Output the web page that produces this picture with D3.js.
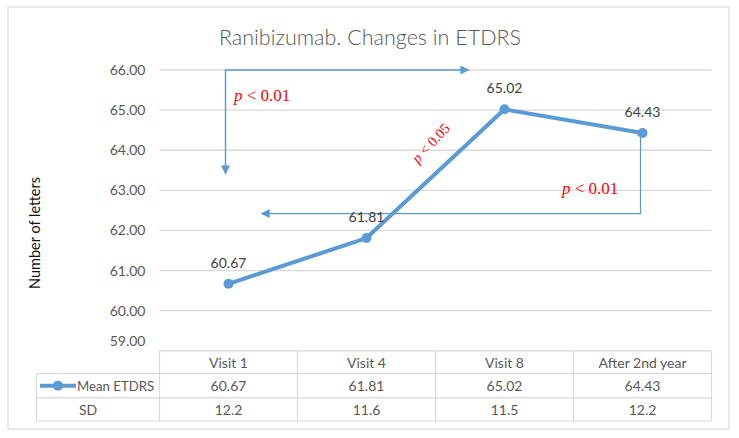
<!DOCTYPE html>
<html><head><meta charset="utf-8">
<script src="https://cdn.jsdelivr.net/npm/d3@7"></script>
<style>body{margin:0;background:#fff}svg{display:block}</style>
</head><body>
<script>
const categories = ["Visit 1", "Visit 4", "Visit 8", "After 2nd year"];
const meanETDRS = [60.67, 61.81, 65.02, 64.43];
const meanLabels = ["60.67", "61.81", "65.02", "64.43"];
const sdValues = ["12.2", "11.6", "11.5", "12.2"];
const yTicks = [59, 60, 61, 62, 63, 64, 65, 66];
const title = "Ranibizumab. Changes in ETDRS";
const yTitle = "Number of letters";
const seriesName = "Mean ETDRS";
const sdName = "SD";

const W = 739, H = 438;
const blue = "#5B9BD5", grid = "#D9D9D9", txt = "#595959";
const font = "Lato, 'Open Sans', sans-serif";

const svg = d3.select("body").append("svg").attr("width", W).attr("height", H);
svg.append("rect").attr("x", 8).attr("y", 7).attr("width", 721).attr("height", 422)
  .attr("fill", "#fff").attr("stroke", grid).attr("stroke-width", 1.2);

const x = d3.scaleBand().domain(categories).range([159.5, 711.5]);
const y = d3.scaleLinear().domain([59, 66]).range([350.8, 70]);

svg.append("text").attr("x", 370).attr("y", 45).attr("text-anchor", "middle")
  .attr("font-family", font).attr("font-weight", 300).attr("font-size", 21.5).attr("fill", txt).text(title);

// gridlines
svg.append("g").selectAll("line").data(yTicks.filter(d => d > 59)).join("line")
  .attr("x1", 159.5).attr("x2", 711.5).attr("y1", d => y(d)).attr("y2", d => y(d))
  .attr("stroke", grid).attr("stroke-width", 1.3);

// y axis labels
const yAxis = d3.axisLeft(y).tickValues(yTicks).tickFormat(d3.format(".2f")).tickSize(0).tickPadding(14);
const ga = svg.append("g").attr("transform", "translate(159.5,0)").call(yAxis);
ga.select(".domain").remove();
ga.selectAll("text").attr("font-family", font).attr("font-size", 14).attr("fill", txt);
ga.selectAll(".tick").filter(d => d === 59).select("text").attr("dy", "-0.4em");

svg.append("text").attr("transform", "translate(40,233) rotate(-90)").attr("text-anchor", "middle")
  .attr("font-family", font).attr("font-size", 14.5).attr("fill", "#111").text(yTitle);

// arrow markers
const defs = svg.append("defs");
defs.append("marker").attr("id", "arr").attr("viewBox", "0 0 10 10").attr("refX", 9).attr("refY", 5)
  .attr("markerWidth", 10).attr("markerHeight", 9).attr("markerUnits", "userSpaceOnUse")
  .attr("orient", "auto-start-reverse")
  .append("path").attr("d", "M0,0L10,5L0,10Z").attr("fill", blue);
defs.append("marker").attr("id", "arrS").attr("viewBox", "0 0 10 10").attr("refX", 5).attr("refY", 5)
  .attr("markerWidth", 7).attr("markerHeight", 7).attr("markerUnits", "userSpaceOnUse")
  .attr("orient", "auto-start-reverse")
  .append("path").attr("d", "M0,0L10,5L0,10Z").attr("fill", blue);

// annotation brackets
const ax1 = x(categories[0]) + x.bandwidth() / 2 - 3;
svg.append("path")
  .attr("d", `M${ax1},${y(63.42)}L${ax1},${y(66)}L${x(categories[2]) + x.bandwidth()/2 - 36},${y(66)}`)
  .attr("fill", "none").attr("stroke", blue).attr("stroke-width", 1.5)
  .attr("marker-start", "url(#arr)").attr("marker-end", "url(#arr)");
const ax4 = x(categories[3]) + x.bandwidth() / 2 - 2;
svg.append("path")
  .attr("d", `M${x(categories[0]) + x.bandwidth()/2 + 33},${y(62.42)}L${ax4},${y(62.42)}L${ax4},${y(64.43)}`)
  .attr("fill", "none").attr("stroke", blue).attr("stroke-width", 1.2)
  .attr("marker-start", "url(#arr)").attr("marker-end", "url(#arrS)");

// p-value texts
function pText(xx, yy, rot, size, rest) {
  const t = svg.append("text").attr("transform", `translate(${xx},${yy}) rotate(${rot})`)
    .attr("font-family", "'Liberation Serif', 'Times New Roman', serif").attr("font-size", size).attr("fill", "#FF0000");
  t.append("tspan").attr("font-style", "italic").text("p");
  t.append("tspan").text(rest);
}
pText(234, 101, 0, 17, " < 0.01");
pText(562, 194, 0, 17, " < 0.01");
pText(418, 164, -47, 14.5, " < 0.05");

// line
const cx = d => x(d) + x.bandwidth() / 2;
const line = d3.line().x((d, i) => cx(categories[i])).y(d => y(d));
svg.append("path").datum(meanETDRS).attr("d", line).attr("fill", "none")
  .attr("stroke", blue).attr("stroke-width", 4).attr("stroke-linejoin", "round");
svg.append("g").selectAll("circle").data(meanETDRS).join("circle")
  .attr("cx", (d, i) => cx(categories[i])).attr("cy", d => y(d)).attr("r", 5).attr("fill", blue);
svg.append("g").selectAll("text").data(meanETDRS).join("text")
  .attr("x", (d, i) => cx(categories[i])).attr("y", d => y(d) - 16).attr("text-anchor", "middle")
  .attr("font-family", font).attr("font-size", 14).attr("fill", "#404040")
  .text((d, i) => meanLabels[i]);

// data table
const rowY = [350.8, 373.5, 397.8, 421];
const tl = 36.5, tr = 711.5, cl = 159.5;
const tg = svg.append("g").attr("stroke", grid).attr("stroke-width", 1.2).attr("fill", "none");
tg.append("line").attr("x1", cl).attr("x2", tr).attr("y1", rowY[0]).attr("y2", rowY[0]);
[1, 2, 3].forEach(i => tg.append("line").attr("x1", tl).attr("x2", tr).attr("y1", rowY[i]).attr("y2", rowY[i]));
tg.append("line").attr("x1", tl).attr("x2", tl).attr("y1", rowY[1]).attr("y2", rowY[3]);
tg.selectAll(".v").data(categories.concat(["end"])).join("line")
  .attr("x1", d => d === "end" ? tr : x(d)).attr("x2", d => d === "end" ? tr : x(d))
  .attr("y1", rowY[0]).attr("y2", rowY[3]);

const cellText = (xx, yy, s, anchor, fs) => svg.append("text").attr("x", xx).attr("y", yy)
  .attr("text-anchor", anchor || "middle").attr("dominant-baseline", "central")
  .attr("font-family", font).attr("font-size", fs || 14).attr("fill", txt).text(s);
categories.forEach((c, i) => {
  cellText(cx(c), (rowY[0] + rowY[1]) / 2, c);
  cellText(cx(c), (rowY[1] + rowY[2]) / 2, meanLabels[i]);
  cellText(cx(c), (rowY[2] + rowY[3]) / 2, sdValues[i]);
});
const my = (rowY[1] + rowY[2]) / 2;
svg.append("line").attr("x1", 40).attr("x2", 76).attr("y1", my).attr("y2", my)
  .attr("stroke", blue).attr("stroke-width", 4);
svg.append("circle").attr("cx", 58).attr("cy", my).attr("r", 5).attr("fill", blue);
cellText(77, my, seriesName, "start", 13.2);
cellText(88, (rowY[2] + rowY[3]) / 2, sdName);
</script>
</body></html>
